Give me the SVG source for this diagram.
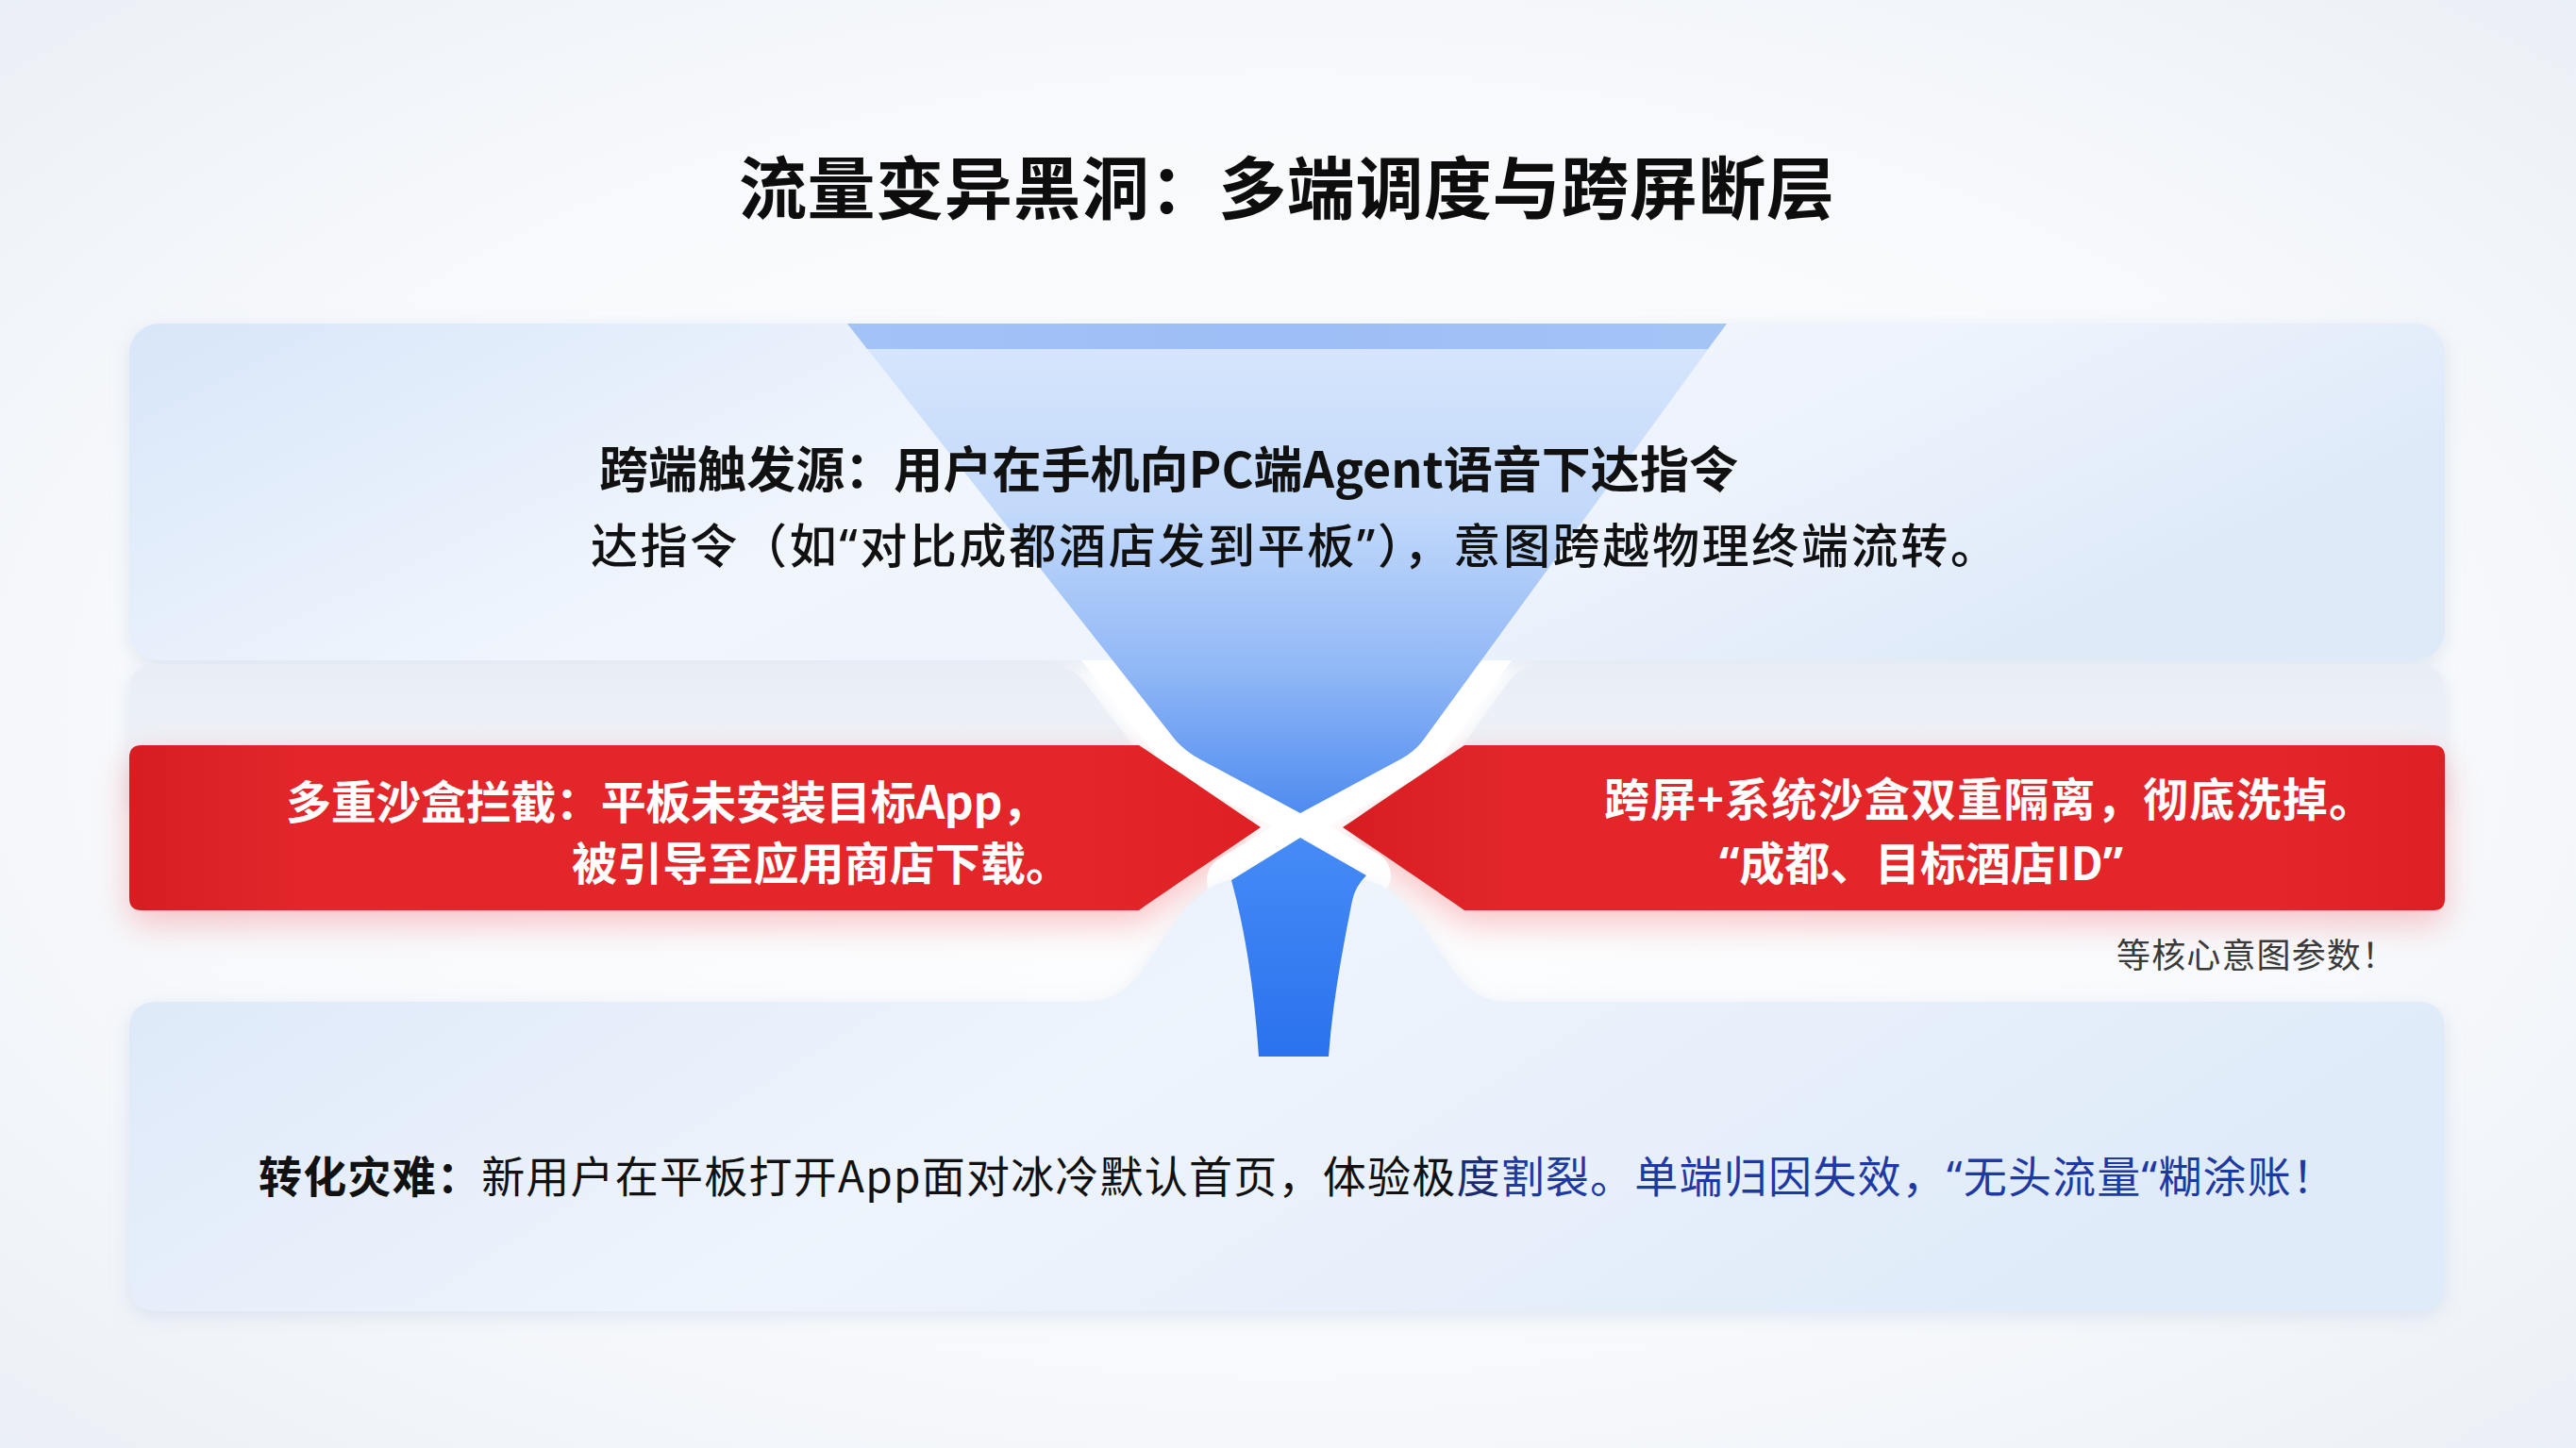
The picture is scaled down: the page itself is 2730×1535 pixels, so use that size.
<svg xmlns="http://www.w3.org/2000/svg" width="2730" height="1535" viewBox="0 0 2730 1535">
<defs>
<style>
text{font-family:"Noto Sans CJK SC","Noto Sans",sans-serif;}
.q{font-family:"Noto Sans","Noto Sans CJK SC",sans-serif;}
.title{font-size:72px;font-weight:700;fill:#0d0d0d;}
.t1{font-size:52px;font-weight:700;fill:#111;}
.t2{font-size:50px;font-weight:500;fill:#111;}
.w{font-size:48px;font-weight:700;fill:#fff;}
.g{font-size:36px;font-weight:400;fill:#3a3a3a;}
.b{font-size:46px;font-weight:400;fill:#111;}
.bold{font-weight:700;}
.navy{fill:#1c2a6e;}
.blue{fill:#1e3aa2;}
.halo{fill:#fff;stroke:#fff;stroke-width:52;stroke-linejoin:round;}
.red{fill:url(#redG);}
</style>
<radialGradient id="bgG" cx="50%" cy="50%" r="75%">
 <stop offset="0" stop-color="#ffffff"/>
 <stop offset="0.6" stop-color="#f7f9fc"/>
 <stop offset="1" stop-color="#e9eef5"/>
</radialGradient>
<linearGradient id="panelTop" x1="0" y1="0" x2="1" y2="0.3">
 <stop offset="0" stop-color="#d8e6f9"/>
 <stop offset="0.45" stop-color="#f1f6fd"/>
 <stop offset="0.75" stop-color="#edf3fc"/>
 <stop offset="1" stop-color="#dfeaf9"/>
</linearGradient>
<linearGradient id="panelBot" x1="0" y1="0" x2="1" y2="0.3">
 <stop offset="0" stop-color="#dbe7f8"/>
 <stop offset="0.5" stop-color="#eef4fc"/>
 <stop offset="1" stop-color="#e0ebf9"/>
</linearGradient>
<linearGradient id="panelMid" x1="0" y1="0" x2="0" y2="1">
 <stop offset="0" stop-color="#e9eef6"/>
 <stop offset="1" stop-color="#f1f3f8"/>
</linearGradient>
<linearGradient id="funnelG" gradientUnits="userSpaceOnUse" x1="0" y1="370" x2="0" y2="860">
 <stop offset="0" stop-color="#d5e5fc"/>
 <stop offset="0.35" stop-color="#c2d9fa"/>
 <stop offset="0.7" stop-color="#90b7f6"/>
 <stop offset="1" stop-color="#4f8cf0"/>
</linearGradient>
<linearGradient id="rimG" x1="0" y1="0" x2="1" y2="0">
 <stop offset="0" stop-color="#a3c3f7"/>
 <stop offset="0.5" stop-color="#9cbdf5"/>
 <stop offset="1" stop-color="#a5c4f6"/>
</linearGradient>
<linearGradient id="spoutG" gradientUnits="userSpaceOnUse" x1="0" y1="888" x2="0" y2="1120">
 <stop offset="0" stop-color="#468bf6"/>
 <stop offset="1" stop-color="#2a72ee"/>
</linearGradient>
<linearGradient id="redG" x1="0" y1="0" x2="1" y2="0">
 <stop offset="0" stop-color="#d81d22"/>
 <stop offset="0.15" stop-color="#e2262a"/>
 <stop offset="0.85" stop-color="#e2262a"/>
 <stop offset="1" stop-color="#dc2024"/>
</linearGradient>
<filter id="pshadow" x="-5%" y="-10%" width="110%" height="130%">
 <feDropShadow dx="0" dy="6" stdDeviation="10" flood-color="#a9bcd8" flood-opacity="0.3"/>
</filter>
<filter id="glow" x="-10%" y="-40%" width="120%" height="180%">
 <feGaussianBlur stdDeviation="18"/>
</filter>
<clipPath id="haloClip"><rect x="1090" y="700" width="580" height="420"/></clipPath>
<path id="pFunnel" d="M898,343 H1830 L1508,785 Q1499,797 1484,805 L1378,862 L1272,805 Q1257,797 1246,785 Z"/>
<path id="pSpout" d="M1378,888 L1448,928 Q1436,940 1433,955 C1422,1010 1412,1065 1408,1120 L1334,1120 C1330,1060 1322,995 1305,933 Z"/>
<path id="pRedL" d="M150,790 H1207 C1240,812 1290,846 1336,877 C1290,908 1240,942 1207,965 H150 Q137,965 137,952 V803 Q137,790 150,790 Z"/>
<path id="pRedR" d="M1552,790 H2579 Q2591,790 2591,802 V953 Q2591,965 2579,965 H1552 C1519,942 1469,908 1423,877 C1469,846 1519,812 1552,790 Z"/>
</defs>

<rect x="0" y="0" width="2730" height="1535" fill="url(#bgG)"/>

<g id="title">
 <text class="title" x="783" y="226" textLength="1161" lengthAdjust="spacing">流量变异黑洞：多端调度与跨屏断层</text>
</g>

<g id="panels" filter="url(#pshadow)">
 <rect id="panel-top" x="137" y="343" width="2454" height="357" rx="32" fill="url(#panelTop)"/>
 <path id="panel-mid-left" d="M167,704 H1108 Q1134,704 1150,724 L1216,810 V850 H137 V734 Q137,704 167,704 Z" fill="url(#panelMid)"/>
 <path id="panel-mid-right" d="M2561,704 H1638 Q1612,704 1598,724 L1536,810 V850 H2591 V734 Q2591,704 2561,704 Z" fill="url(#panelMid)"/>
</g>

<g id="red-glow" filter="url(#glow)" opacity="0.35" transform="translate(0,14)">
 <use href="#pRedL" fill="#f25a5a"/>
 <use href="#pRedR" fill="#f25a5a"/>
</g>

<g id="halos" clip-path="url(#haloClip)">
 <use href="#pFunnel" class="halo"/>
 <use href="#pSpout" class="halo"/>
</g>

<g id="panel-lower" filter="url(#pshadow)">
 <path d="M167,1062 H1150 C1185,1062 1200,1045 1222,1012 C1245,978 1270,935 1310,932 H1440 C1480,935 1505,978 1528,1012 C1550,1045 1565,1062 1600,1062 H2561 Q2591,1062 2591,1092 V1360 Q2591,1390 2561,1390 H167 Q137,1390 137,1360 V1092 Q137,1062 167,1062 Z" fill="url(#panelBot)"/>
</g>

<g id="connectors">
 <g id="funnel">
  <use href="#pFunnel" fill="url(#funnelG)"/>
  <path d="M898,343 H1830 L1810,370 H919 Z" fill="url(#rimG)"/>
  <use href="#pSpout" fill="url(#spoutG)"/>
 </g>
</g>

<g id="node-trigger">
 <text class="t1" x="635" y="517" textLength="1207" lengthAdjust="spacing">跨端触发源：用户在手机向PC端Agent语音下达指令</text>
 <text class="t2" x="626" y="597" textLength="1491" lengthAdjust="spacing">达指令（如<tspan class="q">“</tspan>对比成都酒店发到平板<tspan class="q">”</tspan>），意图跨越物理终端流转。</text>
</g>

<g id="node-sandbox">
 <use href="#pRedL" class="red"/>
 <text class="w" x="303" y="868" textLength="807" lengthAdjust="spacing">多重沙盒拦截：平板未安装目标App，</text>
 <text class="w" x="606" y="933" textLength="529" lengthAdjust="spacing">被引导至应用商店下载。</text>
</g>

<g id="node-isolation">
 <use href="#pRedR" class="red"/>
 <text class="w" x="1700" y="865" textLength="816" lengthAdjust="spacing">跨屏+系统沙盒双重隔离，彻底洗掉。</text>
 <text class="w" x="1822" y="933" textLength="428" lengthAdjust="spacing"><tspan class="q">“</tspan>成都、目标酒店ID<tspan class="q">”</tspan></text>
 <text class="g" x="2243" y="1026" textLength="296" lengthAdjust="spacing">等核心意图参数！</text>
</g>

<g id="node-conversion">
 <text class="b" x="274" y="1264" textLength="2201" lengthAdjust="spacing"><tspan class="bold">转化灾难：</tspan>新用户在平板打开App面对冰冷默认首页，体验极<tspan class="navy">度</tspan><tspan class="blue">割裂。单端归因失效，<tspan class="q">“</tspan>无头流量<tspan class="q">“</tspan>糊涂账！</tspan></text>
</g>
</svg>
